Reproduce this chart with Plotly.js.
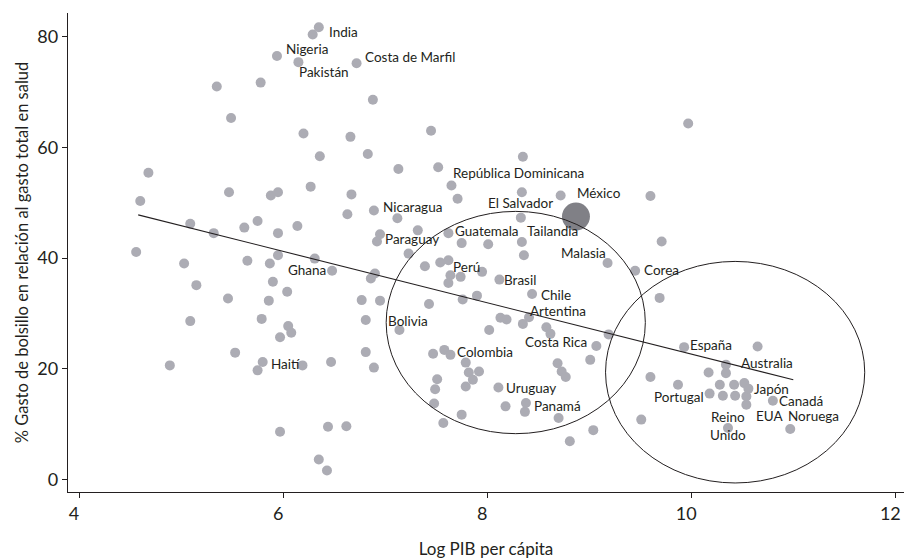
<!DOCTYPE html>
<html>
<head>
<meta charset="utf-8">
<script src="https://cdn.plot.ly/plotly-3.0.1.min.js"></script>
<style>
  html, body { margin: 0; padding: 0; background: #ffffff; }
  #chart { width: 904px; height: 559px; }
</style>
</head>
<body>
<div id="chart"></div>
<script>
// ---------- DATA ----------
// Unlabeled countries: log GDP per capita and out-of-pocket share (%)
const logPib = [
  6.29, 5.35, 5.78, 6.88, 5.49, 6.20, 6.66, 6.36, 6.83, 4.68,
  4.60, 5.47, 5.88, 5.95, 6.27, 6.67, 6.63, 5.09, 5.32, 5.62,
  5.75, 5.95, 6.14, 6.92, 4.56, 5.03, 5.15, 5.65, 5.87, 5.95,
  6.31, 6.90, 6.86, 5.90, 6.04, 5.46, 5.86, 6.77, 6.95, 5.09,
  5.79, 6.05, 6.08, 5.97, 6.81, 5.53, 6.81, 4.89, 5.75, 6.19,
  6.47, 6.89, 5.97, 6.44, 6.62, 6.35, 6.43, 7.45, 8.35, 7.13,
  7.52, 7.71, 8.34, 8.72, 7.12, 7.32, 7.75, 8.01, 8.36, 7.23,
  9.60, 7.39, 7.54, 7.62, 7.64, 7.74, 7.62, 7.90, 7.43, 7.76,
  8.13, 8.19, 8.35, 8.02, 8.58, 8.62, 9.19, 9.01, 7.47, 7.58,
  7.79, 8.69, 8.73, 8.77, 7.82, 7.92, 7.86, 7.79, 7.51, 7.49,
  7.48, 8.18, 8.37, 7.75, 7.57, 8.70, 9.04, 8.81, 9.51, 9.60,
  9.97, 9.71, 9.69, 10.65, 10.34, 10.17, 9.87, 10.28, 10.42, 10.52,
  10.31, 10.43, 10.54
];
const gastoBolsillo = [
  80.4, 71.0, 71.7, 68.6, 65.3, 62.5, 61.9, 58.4, 58.8, 55.4,
  50.3, 51.9, 51.3, 51.9, 52.9, 51.5, 47.9, 46.2, 44.5, 45.5,
  46.7, 44.5, 45.8, 43.0, 41.1, 39.0, 35.1, 39.5, 39.0, 40.5,
  39.9, 37.2, 36.3, 35.7, 33.9, 32.7, 32.3, 32.4, 32.3, 28.6,
  29.0, 27.7, 26.5, 25.7, 28.8, 22.9, 23.0, 20.6, 19.7, 20.6,
  21.2, 20.2, 8.6, 9.5, 9.6, 3.6, 1.6, 63.0, 58.3, 56.1,
  56.4, 50.7, 51.9, 51.3, 47.2, 45.0, 42.7, 42.5, 40.5, 40.8,
  51.2, 38.5, 39.2, 39.6, 36.9, 36.6, 35.5, 33.2, 31.7, 32.5,
  29.2, 28.9, 28.1, 27.0, 27.5, 26.3, 26.2, 21.6, 22.7, 23.4,
  21.1, 21.0, 19.5, 18.5, 19.3, 19.5, 18.0, 16.8, 18.1, 16.3,
  13.7, 13.2, 12.2, 11.7, 10.2, 11.1, 8.9, 6.9, 10.8, 18.5,
  64.3, 43.0, 32.8, 24.0, 19.2, 19.3, 17.1, 17.1, 17.1, 17.4,
  15.1, 15.1, 15.0
];

// Labeled countries
const paises = [
  "India", "Nigeria", "Pakistán", "Costa de Marfil", "Nicaragua", "Paraguay",
  "Ghana", "Haití", "República Dominicana", "El Salvador", "Guatemala",
  "Tailandia", "Malasia", "Corea", "Perú", "Brasil", "Chile", "Artentina",
  "Bolivia", "Costa Rica", "Colombia", "Uruguay", "Panamá", "España",
  "Australia", "Japón", "Portugal", "Canadá", "EUA", "Reino<br>Unido", "Noruega"
];
const paisesLogPib = [
  6.35, 5.94, 6.15, 6.72, 6.89, 6.95,
  6.48, 5.80, 7.65, 8.33, 7.62,
  8.34, 9.18, 9.45, 7.95, 8.12, 8.44, 8.41,
  7.14, 9.07, 7.64, 8.11, 8.38, 9.93,
  10.34, 10.56, 10.18, 10.80, 10.54, 10.36, 10.97
];
const paisesGasto = [
  81.7, 76.5, 75.4, 75.2, 48.6, 44.3,
  37.7, 21.2, 53.1, 47.3, 44.5,
  42.9, 39.1, 37.7, 37.5, 36.1, 33.5, 29.3,
  27.0, 24.1, 22.5, 16.6, 13.8, 23.9,
  20.7, 16.4, 15.5, 14.2, 13.5, 9.3, 9.1
];

// Highlighted country
const mexicoNombre = ["México"];
const mexicoLogPib = [8.87];
const mexicoGasto = [47.5];

// Fitted line (end points)
const ajusteLogPib = [4.58, 11.00];
const ajusteGasto = [47.8, 18.0];

// Cluster ellipses (bounding boxes in data units)
const elipseX0 = [7.01, 9.16];
const elipseX1 = [9.55, 11.70];
const elipseY0 = [8.26, -0.65];
const elipseY1 = [48.43, 39.39];

// Axis ticks
const xTicks = [4, 6, 8, 10, 12];
const yTicks = [0, 20, 40, 60, 80];

// ---------- STYLE / LABEL PLACEMENT ----------
const ink = "#231f20";
const fontFam = "Lato, 'Open Sans', sans-serif";
// anchor, x shift (px), y shift (px, up positive)
const labelPos = {
  "India": ["left", 9, -4.6],
  "Nigeria": ["left", 8.3, 7],
  "Pakistán": ["left", 0, -10],
  "Costa de Marfil": ["left", 7.3, 6.4],
  "Nicaragua": ["left", 8.4, 3.7],
  "Paraguay": ["left", 4.3, -5],
  "Ghana": ["right", -4.6, 0.7],
  "Haití": ["left", 7, -2],
  "República Dominicana": ["left", 0.7, 13],
  "El Salvador": ["center", -0.8, 14.7],
  "Guatemala": ["left", 6, 2.3],
  "Tailandia": ["left", 4, 11.3],
  "Malasia": ["right", -0.6, 10],
  "Corea": ["left", 7.7, 0.7],
  "Perú": ["right", -1, 5.3],
  "Brasil": ["left", 3.3, 0],
  "Chile": ["left", 8.4, -0.7],
  "Artentina": ["left", 0, 6.7],
  "Bolivia": ["left", -12.7, 9.3],
  "Costa Rica": ["right", -8.7, 3.6],
  "Colombia": ["left", 5.3, 2.6],
  "Uruguay": ["left", 6.7, -0.6],
  "Panamá": ["left", 7.3, -2.7],
  "España": ["left", 4.6, 2],
  "Australia": ["left", 14, 1.7],
  "Japón": ["left", 5, 0],
  "Portugal": ["right", -4.3, -3],
  "Canadá": ["left", 5.6, 0],
  "EUA": ["left", 8.3, -11.7],
  "Reino<br>Unido": ["center", 0, 2],
  "Noruega": ["left", -3.6, 12.6],
  "México": ["left", 0, 24]
};

const grayPts = "rgb(172,172,180)";

const traces = [
  {
    type: "scatter", mode: "markers",
    x: logPib.concat(paisesLogPib),
    y: gastoBolsillo.concat(paisesGasto),
    marker: { color: grayPts, size: 10, line: { width: 0 } },
    hoverinfo: "skip", showlegend: false, cliponaxis: false
  },
  {
    type: "scatter", mode: "markers",
    x: mexicoLogPib, y: mexicoGasto,
    marker: { color: "rgb(128,128,134)", size: 28, line: { width: 0 } },
    hoverinfo: "skip", showlegend: false
  },
  {
    type: "scatter", mode: "lines",
    x: ajusteLogPib, y: ajusteGasto,
    line: { color: ink, width: 1.1 },
    hoverinfo: "skip", showlegend: false
  }
];

const allNames = paises.concat(mexicoNombre);
const allX = paisesLogPib.concat(mexicoLogPib);
const allY = paisesGasto.concat(mexicoGasto);
const annotations = allNames.map((n, i) => {
  const p = labelPos[n] || ["left", 5, 0];
  return {
    x: allX[i], y: allY[i], xref: "x", yref: "y",
    text: n, showarrow: false,
    xanchor: p[0], yanchor: "middle",
    xshift: p[1], yshift: p[2],
    borderpad: 0,
    font: { family: fontFam, size: 13.5, color: ink }
  };
});

const shapes = elipseX0.map((x0, i) => ({
  type: "circle", xref: "x", yref: "y",
  x0: x0, x1: elipseX1[i], y0: elipseY0[i], y1: elipseY1[i],
  line: { color: ink, width: 1 }, fillcolor: "rgba(0,0,0,0)",
  layer: "above"
}));

const layout = {
  width: 904, height: 559,
  margin: { l: 68, r: 0, t: 13, b: 67 },
  paper_bgcolor: "#ffffff", plot_bgcolor: "#ffffff",
  font: { family: fontFam, color: ink },
  xaxis: {
    range: [3.892, 12.085], tickvals: xTicks, ticktext: xTicks.map(String),
    ticks: "outside", ticklen: 5, tickwidth: 1, tickcolor: ink,
    ticklabeloverflow: "allow", ticklabelshift: -5,
    showline: true, linecolor: ink, linewidth: 1.2,
    showgrid: false, zeroline: false,
    tickfont: { family: fontFam, size: 18, color: ink },
    title: { text: "Log PIB per cápita", font: { family: fontFam, size: 17, color: ink }, standoff: 22 }
  },
  yaxis: {
    range: [-2.28, 84.28], tickvals: yTicks, ticktext: yTicks.map(String),
    ticks: "outside", ticklen: 5, tickwidth: 1, tickcolor: ink,
    showline: true, linecolor: ink, linewidth: 1.2,
    showgrid: false, zeroline: false,
    tickfont: { family: fontFam, size: 18, color: ink },
    title: { text: "% Gasto de bolsillo en relación al gasto total en salud", font: { family: fontFam, size: 16.5, color: ink }, standoff: 4 }
  },
  annotations: annotations,
  shapes: shapes,
  showlegend: false
};

Plotly.newPlot("chart", traces, layout, { displayModeBar: false, staticPlot: true });
</script>
</body>
</html>
